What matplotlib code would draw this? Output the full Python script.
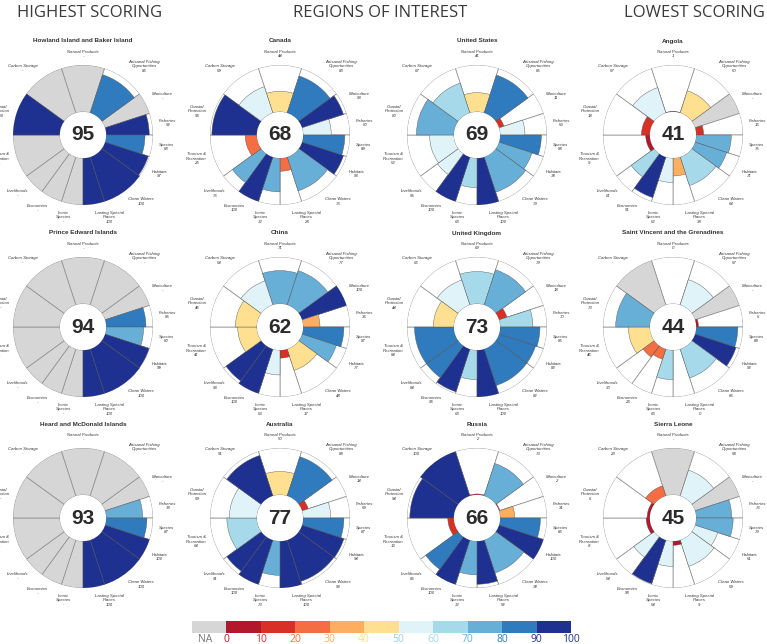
import matplotlib.pyplot as plt
import matplotlib.patches as mpatches
import numpy as np

# --- goals, clockwise from the top ---
goal_names = ['Natural Products', 'Artisanal Fishing\nOpportunities', 'Mariculture', 'Fisheries',
              'Species', 'Habitats', 'Clean Waters', 'Lasting Special\nPlaces', 'Iconic\nSpecies',
              'Economies', 'Livelihoods', 'Tourism &\nRecreation', 'Coastal\nProtection', 'Carbon Storage']
goal_widths = [36, 36, 18, 18, 18, 18, 36, 18, 18, 18, 18, 36, 36, 36]

# --- scores per region (None = NA) ---
howland = [None, 86, None, 92, 83, 97, 100, 100, None, None, None, None, 100, None]
canada = [44, 83, 93, 60, 89, 93, 76, 28, 72, 100, 76, 25, 96, 59]
usa = [41, 85, 11, 53, 88, 74, 79, 100, 63, 100, 55, 52, 80, 67]
angola = [1, 50, None, 16, 75, 71, 64, 38, 52, 91, 61, 9, 18, 57]
prince_edward = [None, None, None, 85, 80, 99, 100, 100, None, None, None, None, None, None]
china = [71, 77, 100, 36, 87, 77, 48, 17, 53, 100, 93, 41, 46, 54]
uk = [69, 79, 18, 70, 85, 82, 82, 100, 63, 96, 84, 84, 44, 56]
st_vincent = [0, 57, None, 5, 89, 92, 65, 0, 63, 23, 30, 46, 73, None]
heard = [None, None, None, 78, 87, 100, 100, 100, None, None, None, None, None, None]
australia = [50, 88, 14, 59, 87, 94, 93, 100, 73, 100, 91, 64, 59, 91]
russia = [2, 73, 2, 31, 86, 100, 74, 92, 72, 100, 86, 13, 94, 100]
sierra_leone = [None, 58, None, 76, 79, 51, 59, 9, 54, 98, 54, 8, 6, 23]

region_titles = ['Howland Island and Baker Island', 'Canada', 'United States', 'Angola',
                 'Prince Edward Islands', 'China', 'United Kingdom', 'Saint Vincent and the Grenadines',
                 'Heard and McDonald Islands', 'Australia', 'Russia', 'Sierra Leone']
region_scores = [95, 68, 69, 41, 94, 62, 73, 44, 93, 77, 66, 45]
region_values = [howland, canada, usa, angola, prince_edward, china, uk, st_vincent,
                 heard, australia, russia, sierra_leone]

bin_colors = ['#b2182b', '#d73027', '#f46d43', '#fdae61', '#fee090',
              '#e0f3f8', '#a6d9ea', '#67afd6', '#2f7bbd', '#1f3190']
na_color = '#d6d6d6'
bin_edges = [0, 10, 20, 30, 40, 50, 60, 70, 80, 90, 100]


def score_color(v):
    if v is None:
        return na_color
    i = max(int(np.ceil(v / 10.0)) - 1, 0)
    return bin_colors[min(i, 9)]


W, H = 767, 644
fig = plt.figure(figsize=(W / 100, H / 100), dpi=100)

# column headers
for txt, x in [('HIGHEST SCORING', 90), ('REGIONS OF INTEREST', 380), ('LOWEST SCORING', 694)]:
    fig.text(x / W, 1 - 13 / H, txt, ha='center', va='center', fontsize=12,
             family='Open Sans', color='#3a3a3a')

col_x = [83, 280, 477, 673]
row_y = [135, 327, 518]
R = 70
r0 = 0.33

theta_edges = np.cumsum([0] + goal_widths) - 18
theta_mid = np.deg2rad((theta_edges[:-1] + theta_edges[1:]) / 2)
theta_w = np.deg2rad(goal_widths)

for k, (title, score, vals) in enumerate(zip(region_titles, region_scores, region_values)):
    cx, cy = col_x[k % 4], row_y[k // 4]
    ax = fig.add_axes([(cx - R) / W, (H - cy - R) / H, 2 * R / W, 2 * R / H], projection='polar')
    ax.set_theta_zero_location('N')
    ax.set_theta_direction(-1)
    ax.set_ylim(0, 1)
    ax.set_axis_off()

    # background sectors
    for th, w, v in zip(theta_mid, theta_w, vals):
        ax.bar(th, 1 - r0, width=w, bottom=r0, color=na_color if v is None else 'white',
               edgecolor='#8c8c8c', linewidth=0.5)
    # petals
    for th, w, v in zip(theta_mid, theta_w, vals):
        if v is not None and v > 0:
            ax.bar(th, (1 - r0) * v / 100, width=w, bottom=r0, color=score_color(v),
                   edgecolor='#555555', linewidth=0.3)

    ax.add_patch(mpatches.Circle((0.5, 0.5), r0 / 2, transform=ax.transAxes,
                                 facecolor='white', edgecolor='none', zorder=5))
    ax.text(0.5, 0.5, str(score), transform=ax.transAxes, ha='center', va='center',
            fontsize=15, fontweight='bold', family='Liberation Sans', color='#2b2b2b', zorder=6)

    # goal labels
    for th, name, v in zip(theta_mid, goal_names, vals):
        s, c = np.sin(th), np.cos(th)
        ha = 'left' if s > 0.15 else ('right' if s < -0.15 else 'center')
        va = 'bottom' if c > 0.35 else ('top' if c < -0.35 else 'center')
        ax.text(th, 1.1, name + '\n' + ('-' if v is None else str(v)), ha=ha, va=va,
                fontsize=3.1, style='italic', family='Liberation Sans', color='#333333',
                linespacing=1.1, multialignment='center', clip_on=False)

    fig.text(cx / W, 1 - (cy - R - 24) / H, title, ha='center', va='center',
             fontsize=4.6, fontweight='bold', family='Liberation Sans', color='#333333')

# colour legend
cax = fig.add_axes([190 / W, (H - 633) / H, (571 - 190) / W, 12 / H])
cax.bar(-5, 1, width=10, color=na_color, align='center')
for lo, c in zip(bin_edges[:-1], bin_colors):
    cax.bar(lo + 5, 1, width=10, color=c, align='center')
cax.set_xlim(-10.5, 100)
cax.set_ylim(0, 1)
cax.set_yticks([])
for sp in cax.spines.values():
    sp.set_visible(False)
cax.set_xticks([-6] + bin_edges)
cax.set_xticklabels(['NA'] + [str(b) for b in bin_edges], fontsize=7.5, family='Open Sans')
cax.tick_params(axis='x', length=0, pad=0.5)
label_colors = ['#777777'] + bin_colors[:5] + ['#9ccfe0'] + bin_colors[6:] + [bin_colors[-1]]
for lab, c in zip(cax.get_xticklabels(), label_colors):
    lab.set_color(c)

plt.savefig('out.png', dpi=100)
